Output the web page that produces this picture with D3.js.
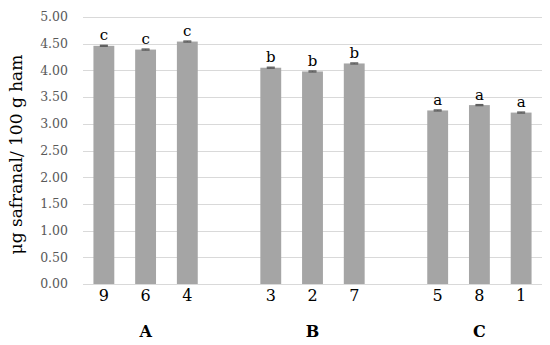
<!DOCTYPE html>
<html>
<head>
<meta charset="utf-8">
<script src="https://cdn.jsdelivr.net/npm/d3@7"></script>
<style>
  body { margin: 0; background: #fff; }
  svg { display: block; }
  svg text { font-family: "DejaVu Serif", "Liberation Serif", serif; }
</style>
</head>
<body>
<svg id="chart" width="550" height="345"></svg>
<script>
// data
const groups = ['A', 'B', 'C'];
const samples = [['9', '6', '4'], ['3', '2', '7'], ['5', '8', '1']];
const values = [[4.46, 4.39, 4.54], [4.05, 3.98, 4.13], [3.25, 3.35, 3.21]];
const errors = [[0.01, 0.01, 0.01], [0.01, 0.01, 0.01], [0.01, 0.01, 0.01]];
const letters = ['c', 'b', 'a'];
const yTicks = [0, 0.5, 1, 1.5, 2, 2.5, 3, 3.5, 4, 4.5, 5];

// flat rows, with an empty slot between groups (like Excel blank categories)
const rows = [];
const slots = [];
groups.forEach((g, gi) => {
  if (gi > 0) slots.push('gap' + gi);
  samples[gi].forEach((s, si) => {
    const key = g + s;
    slots.push(key);
    rows.push({key, sample: s, group: g, value: values[gi][si], err: errors[gi][si], letter: letters[gi]});
  });
});

const svg = d3.select('#chart');
const margin = {left: 83, right: 8, top: 17, bottom: 61};
const W = 550, H = 345;

const x = d3.scaleBand().domain(slots).range([margin.left, W - margin.right]).paddingInner(0.5).paddingOuter(0.25);
const y = d3.scaleLinear().domain([0, 5]).range([H - margin.bottom, margin.top]);

// gridlines
svg.append('g').selectAll('line').data(yTicks).join('line')
  .attr('x1', margin.left).attr('x2', W - margin.right)
  .attr('y1', (d) => Math.round(y(d)) + 0.5).attr('y2', (d) => Math.round(y(d)) + 0.5)
  .style('stroke', '#d9d9d9').style('stroke-width', 1);

// y tick labels
svg.append('g').selectAll('text').data(yTicks).join('text')
  .attr('x', 68).attr('y', (d) => y(d))
  .attr('dy', '0.35em')
  .attr('text-anchor', 'end')
  .style('font-size', '12.5px')
  .style('fill', '#595959')
  .text((d) => d.toFixed(2));

// bars
svg.append('g').selectAll('rect').data(rows).join('rect')
  .attr('x', (d) => x(d.key)).attr('width', x.bandwidth())
  .attr('y', (d) => y(d.value)).attr('height', (d) => y(0) - y(d.value))
  .style('fill', '#a5a5a5');

// error bars
const eb = svg.append('g').selectAll('g').data(rows).join('g')
  .style('stroke', '#5f5f5f').style('stroke-width', 1.3);
eb.append('line')
  .attr('x1', (d) => x(d.key) + x.bandwidth() / 2).attr('x2', (d) => x(d.key) + x.bandwidth() / 2)
  .attr('y1', (d) => y(d.value + d.err)).attr('y2', (d) => y(d.value - d.err));
eb.append('line')
  .attr('x1', (d) => x(d.key) + x.bandwidth() / 2 - 4).attr('x2', (d) => x(d.key) + x.bandwidth() / 2 + 4)
  .attr('y1', (d) => y(d.value + d.err)).attr('y2', (d) => y(d.value + d.err));
eb.append('line')
  .attr('x1', (d) => x(d.key) + x.bandwidth() / 2 - 4).attr('x2', (d) => x(d.key) + x.bandwidth() / 2 + 4)
  .attr('y1', (d) => y(d.value - d.err)).attr('y2', (d) => y(d.value - d.err));

// significance letters
svg.append('g').selectAll('text').data(rows).join('text')
  .attr('x', (d) => x(d.key) + x.bandwidth() / 2)
  .attr('y', (d) => y(d.value + d.err) - 5)
  .attr('text-anchor', 'middle')
  .style('font-size', '15px')
  .style('fill', '#000')
  .text((d) => d.letter);

// sample labels
svg.append('g').selectAll('text').data(rows).join('text')
  .attr('x', (d) => x(d.key) + x.bandwidth() / 2)
  .attr('y', 301)
  .attr('text-anchor', 'middle')
  .style('font-size', '16px')
  .style('fill', '#000')
  .text((d) => d.sample);

// group labels, centred under the middle bar
svg.append('g').selectAll('text').data(groups).join('text')
  .attr('x', (g, gi) => x(g + samples[gi][1]) + x.bandwidth() / 2)
  .attr('y', 337)
  .attr('text-anchor', 'middle')
  .style('font-size', '16px')
  .style('font-weight', 'bold')
  .style('fill', '#000')
  .text((g) => g);

// y axis title
svg.append('text')
  .attr('transform', `translate(22, ${(y(0) + y(5)) / 2 + 4}) rotate(-90)`)
  .attr('text-anchor', 'middle')
  .style('font-size', '17px')
  .style('fill', '#000')
  .text('μg safranal/ 100 g ham');
</script>
</body>
</html>
